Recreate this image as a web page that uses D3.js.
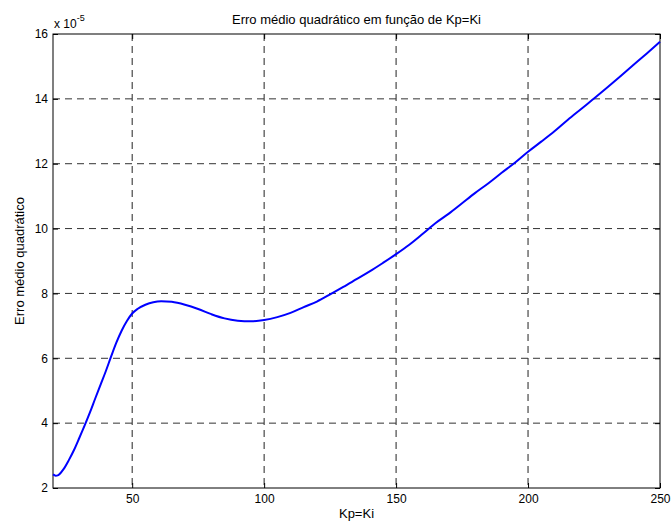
<!DOCTYPE html>
<html>
<head>
<meta charset="utf-8">
<script src="https://cdn.jsdelivr.net/npm/d3@7"></script>
<style>
  body { margin: 0; background: #fff; }
  text { font-family: "Liberation Sans", Arial, sans-serif; fill: #000; }
</style>
</head>
<body>
<div id="chart"></div>
<script>
// Kp=Ki values and mean squared error (x 1e-5)
var kp = [20, 21, 22, 24, 26, 28, 30, 32, 34, 36, 38, 40, 42, 44, 46, 48, 50, 52, 55, 58, 61, 65,
          70, 75, 80, 85, 90, 95, 100, 105, 110, 115, 120, 125, 130, 135, 140, 145, 150, 155, 160,
          165, 170, 175, 180, 185, 190, 195, 200, 205, 210, 215, 220, 225, 230, 235, 240, 245, 250];
var erro = [2.42, 2.38, 2.40, 2.58, 2.86, 3.18, 3.55, 3.93, 4.33, 4.76, 5.18, 5.6, 6.05, 6.48, 6.85, 7.15, 7.38, 7.52, 7.65, 7.73, 7.76, 7.74,
            7.65, 7.52, 7.36, 7.23, 7.16, 7.14, 7.18, 7.27, 7.4, 7.58, 7.75, 7.97, 8.2, 8.44, 8.68, 8.94, 9.21, 9.5, 9.83,
            10.17, 10.46, 10.78, 11.1, 11.4, 11.72, 12.03, 12.37, 12.68, 13.0, 13.35, 13.68, 14.01, 14.35, 14.7, 15.05, 15.4, 15.76];
var xTicks = [50, 100, 150, 200, 250];
var yTicks = [2, 4, 6, 8, 10, 12, 14, 16];

var w = 671, h = 521;
var margin = { left: 53, right: 11, top: 34, bottom: 33 };
var iw = w - margin.left - margin.right;
var ih = h - margin.top - margin.bottom;

var svg = d3.select("#chart").append("svg")
    .attr("width", w)
    .attr("height", h);

var g = svg.append("g").attr("transform", "translate(" + margin.left + "," + margin.top + ")");

var x = d3.scaleLinear().domain([20, 250]).range([0, iw]);
var y = d3.scaleLinear().domain([2, 16]).range([ih, 0]);

// grid
g.selectAll(".vgrid").data(xTicks.filter(d => d < 250)).enter().append("line")
    .attr("x1", d => x(d)).attr("x2", d => x(d))
    .attr("y1", 0).attr("y2", ih)
    .attr("stroke", "#222").attr("stroke-width", 1)
    .attr("stroke-dasharray", "7,5");
g.selectAll(".hgrid").data(yTicks.filter(d => d > 2 && d < 16)).enter().append("line")
    .attr("x1", 0).attr("x2", iw)
    .attr("y1", d => y(d)).attr("y2", d => y(d))
    .attr("stroke", "#333").attr("stroke-width", 1)
    .attr("stroke-dasharray", "7,5");

// axes
g.append("g").attr("transform", "translate(0," + ih + ")")
    .call(d3.axisBottom(x).tickValues(xTicks).tickSizeInner(-5).tickSizeOuter(0).tickPadding(6));
g.append("g")
    .call(d3.axisLeft(y).tickValues(yTicks).tickSizeInner(-5).tickSizeOuter(0).tickPadding(5));
g.append("g")
    .call(d3.axisTop(x).tickValues(xTicks).tickSizeInner(-5).tickSizeOuter(0).tickFormat(""));
g.append("g").attr("transform", "translate(" + iw + ",0)")
    .call(d3.axisRight(y).tickValues(yTicks).tickSizeInner(-5).tickSizeOuter(0).tickFormat(""));

g.selectAll(".tick text").style("font-size", "12px").style("font-family", "Liberation Sans, Arial, sans-serif");
g.selectAll(".tick line").attr("stroke", "#000");
g.selectAll(".domain").remove();

// box
g.append("rect")
    .attr("width", iw).attr("height", ih)
    .attr("fill", "none").attr("stroke", "#000").attr("stroke-width", 1);

// curve
g.append("path")
    .datum(kp.map((d, i) => [d, erro[i]]))
    .attr("fill", "none")
    .attr("stroke", "#0000ff")
    .attr("stroke-width", 2)
    .attr("d", d3.line().x(d => x(d[0])).y(d => y(d[1])).curve(d3.curveMonotoneX));

// exponent label
var ex = svg.append("text")
    .attr("x", margin.left + 1).attr("y", 28)
    .style("font-size", "12px");
ex.append("tspan").text("x 10");
ex.append("tspan").attr("dy", -7).style("font-size", "9px").text("-5");

// title
svg.append("text")
    .attr("x", margin.left + iw / 2).attr("y", 24)
    .attr("text-anchor", "middle")
    .style("font-size", "13px")
    .text("Erro médio quadrático em função de Kp=Ki");

// axis labels
svg.append("text")
    .attr("x", margin.left + iw / 2).attr("y", 518)
    .attr("text-anchor", "middle")
    .style("font-size", "13px")
    .text("Kp=Ki");

svg.append("text")
    .attr("transform", "translate(24," + (margin.top + ih / 2) + ") rotate(-90)")
    .attr("text-anchor", "middle")
    .style("font-size", "13px")
    .text("Erro médio quadrático");
</script>
</body>
</html>
